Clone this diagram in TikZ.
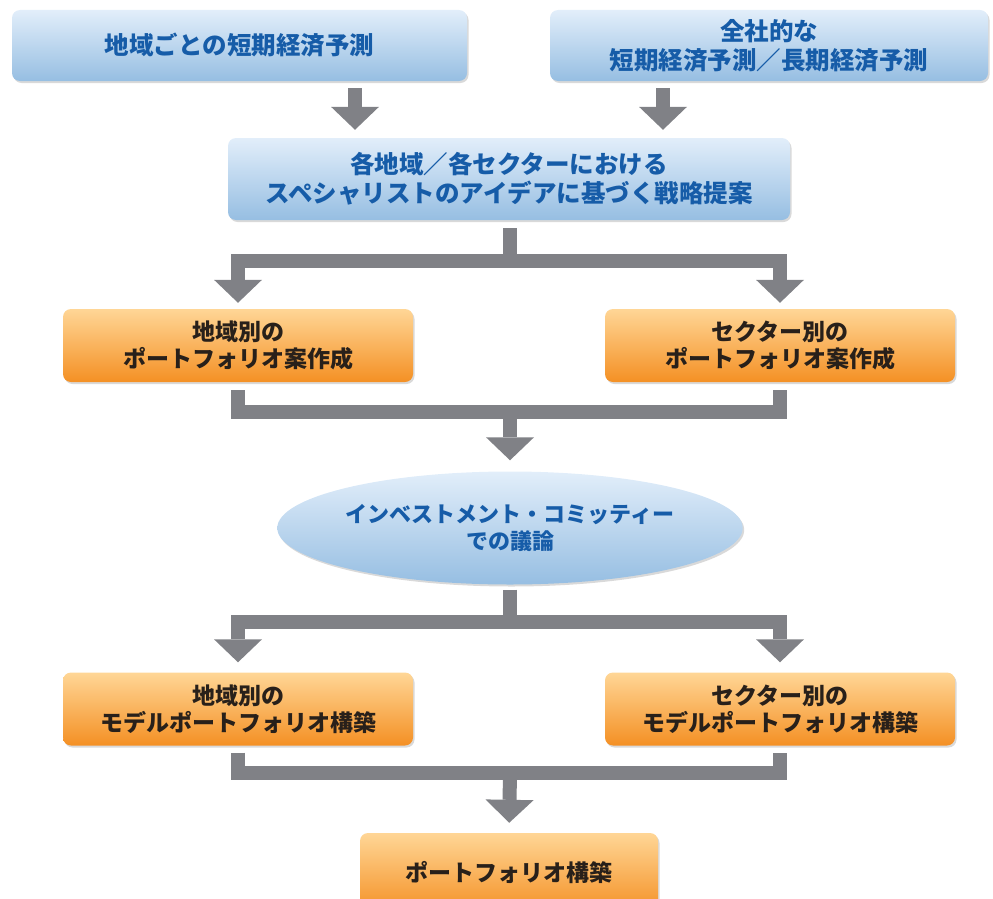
\documentclass[tikz,border=0pt]{standalone}
\usepackage{fontspec}
\setmainfont{Noto Sans CJK JP}
\usetikzlibrary{arrows.meta,shapes.geometric,shadows,calc}
\definecolor{bluetop}{RGB}{226,238,250}
\definecolor{bluebot}{RGB}{150,190,226}
\definecolor{orgtop}{RGB}{255,214,150}
\definecolor{orgbot}{RGB}{244,144,36}
\definecolor{bluetext}{RGB}{22,92,168}
\definecolor{darktext}{RGB}{40,32,26}
\definecolor{arrowgray}{RGB}{128,129,134}
\begin{document}
\begin{tikzpicture}[x=1pt,y=-1pt,
  boxshadow/.style={drop shadow={shadow xshift=1.5pt,shadow yshift=-2pt,opacity=0.15,fill=black}},
  bluebox/.style={rectangle,rounded corners=8pt,top color=bluetop,bottom color=bluebot,
    text=bluetext,font=\fontsize{24.5}{29}\selectfont\bfseries,align=center,inner sep=0pt,boxshadow},
  orgbox/.style={rectangle,rounded corners=8pt,top color=orgtop,bottom color=orgbot,
    text=darktext,font=\fontsize{23}{27}\selectfont\bfseries,align=center,inner sep=0pt,
    minimum width=350pt,minimum height=73pt,boxshadow},
  ellbox/.style={ellipse,top color=bluetop,bottom color=bluebot,
    text=bluetext,font=\fontsize{22}{27}\selectfont\bfseries,align=center,inner sep=0pt,boxshadow},
  conn/.style={draw=arrowgray,line width=14pt,line join=miter},
  arr/.style={conn,-{Triangle[width=48pt,length=23pt,line width=0pt]}}]
\useasboundingbox (0,0) rectangle (993,899);

\node[bluebox,minimum width=455pt,minimum height=71pt] (b1) at (239.5,45.5) {地域ごとの短期経済予測};
\node[bluebox,minimum width=438pt,minimum height=71pt] (b2) at (769,45.5) {全社的な\\短期経済予測／長期経済予測};
\node[bluebox,minimum width=562pt,minimum height=82pt] (b3) at (509,179) {各地域／各セクターにおける\\スペシャリストのアイデアに基づく戦略提案};
\node[orgbox] (b4) at (238,345.5) {地域別の\\ポートフォリオ案作成};
\node[orgbox] (b5) at (780,345.5) {セクター別の\\ポートフォリオ案作成};
\node[ellbox,minimum width=464pt,minimum height=113pt] (e) at (510,528) {インベストメント・コミッティー\\での議論};
\node[orgbox] (b6) at (238,709) {地域別の\\モデルポートフォリオ構築};
\node[orgbox] (b7) at (780,709) {セクター別の\\モデルポートフォリオ構築};
\node[orgbox,minimum width=298pt,minimum height=80pt] (b8) at (509,873) {ポートフォリオ構築};

\coordinate (x1) at (355,0);
\coordinate (x2) at (663,0);
\coordinate (j1) at (510,261);
\coordinate (j2) at (510,412);
\coordinate (j3) at (510,622);
\coordinate (j4) at (510,773);

\draw[arr,shorten <=7pt,shorten >=8pt] (b1.south -| x1) -- (b3.north -| x1);
\draw[arr,shorten <=7pt,shorten >=8pt] (b2.south -| x2) -- (b3.north -| x2);

\draw[conn,shorten <=8pt] (b3.south -| j1) -- (j1);
\draw[arr,shorten >=6pt] (j1) -| (b4.north);
\draw[arr,shorten >=6pt] (j1) -| (b5.north);

\draw[conn,shorten <=8pt,shorten >=8pt] (b4.south) |- (j2) -| (b5.south);
\draw[arr,shorten >=11pt] (j2) -- (e.north);

\draw[conn,shorten <=5pt] (e.south) -- (j3);
\draw[arr,shorten >=10pt] (j3) -| (b6.north);
\draw[arr,shorten >=10pt] (j3) -| (b7.north);

\draw[conn,shorten <=7pt,shorten >=7pt] (b6.south) |- (j4) -| (b7.south);
\draw[arr,shorten >=10pt] (j4) -- (b8.north);
\end{tikzpicture}
\end{document}
